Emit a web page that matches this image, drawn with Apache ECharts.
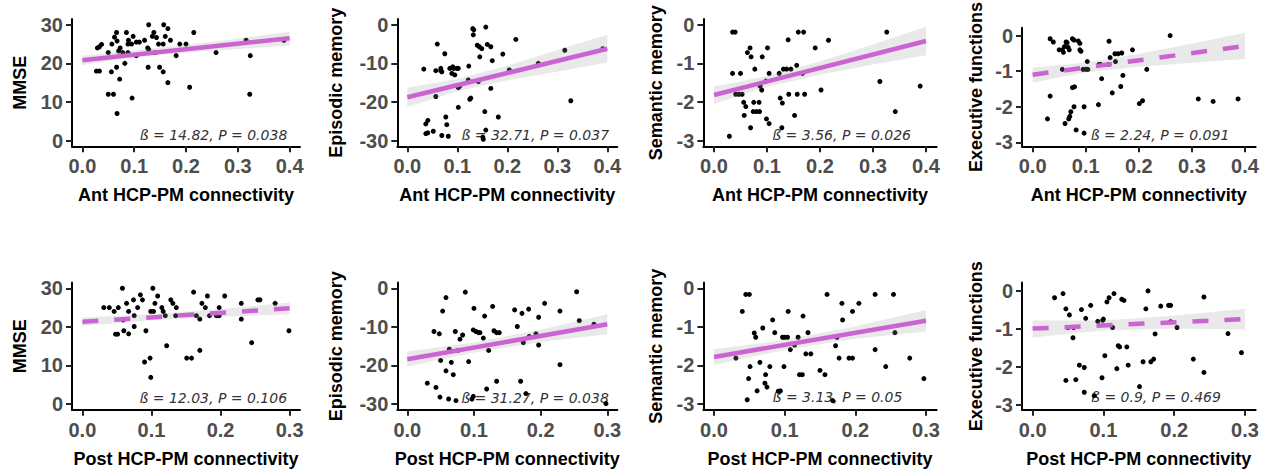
<!DOCTYPE html>
<html>
<head>
<meta charset="utf-8">
<script src="https://cdn.jsdelivr.net/npm/echarts@6/dist/echarts.min.js"></script>
<style>
html, body { margin: 0; padding: 0; background: #fff; }
#main { width: 1268px; height: 473px; }
</style>
</head>
<body>
<div id="main"></div>
<script>
// axis names and stats
var yNames = ['MMSE', 'Episodic memory', 'Semantic memory', 'Executive functions'];
var xNames = ['Ant HCP-PM connectivity', 'Post HCP-PM connectivity'];
var statLabels = [
  'ß = 14.82, P = 0.038', 'ß = 32.71, P = 0.037', 'ß = 3.56, P = 0.026', 'ß = 2.24, P = 0.091',
  'ß = 12.03, P = 0.106', 'ß = 31.27, P = 0.038', 'ß = 3.13, P = 0.05', 'ß = 0.9, P = 0.469'
];

// tick labels
var xTicksAnt = [0, 0.1, 0.2, 0.3, 0.4];
var xTicksPost = [0, 0.1, 0.2, 0.3];
var yTicksMmse = [0, 10, 20, 30];
var yTicksEpisodic = [-30, -20, -10, 0];
var yTicksScore = [-3, -2, -1, 0];

// points: [connectivity, score]
var antMmse = [[0.027,18],[0.033,18],[0.029,24],[0.033,24.3],[0.037,24.9],[0.05,22.8],[0.05,12],[0.06,12],[0.056,17.8],[0.057,25],[0.062,26.8],[0.066,28],[0.067,25.8],[0.066,19],[0.067,7],[0.07,23.2],[0.072,15.9],[0.073,24],[0.078,22.8],[0.082,20],[0.085,28],[0.088,22.8],[0.088,25],[0.089,26],[0.095,25],[0.096,11],[0.098,27],[0.104,25.5],[0.104,22],[0.11,25.5],[0.12,26],[0.126,24],[0.128,23.6],[0.127,19],[0.128,30],[0.135,27],[0.138,28],[0.14,22.8],[0.143,26.7],[0.147,25],[0.149,19],[0.156,25],[0.156,17.8],[0.157,30],[0.16,27],[0.165,29],[0.165,15],[0.17,26],[0.181,22],[0.188,25],[0.2,25],[0.207,13.8],[0.215,28],[0.258,22.8],[0.316,26],[0.323,12],[0.324,22],[0.389,26]];
var antEpisodic = [[0.033,-11.5],[0.037,-25.7],[0.041,-24.8],[0.037,-28.2],[0.041,-28],[0.052,-27.6],[0.057,-11.9],[0.06,-5],[0.057,-18.6],[0.067,-11.9],[0.067,-11.3],[0.069,-12.2],[0.075,-7.5],[0.077,-23.9],[0.079,-25.9],[0.069,-28.7],[0.082,-28.9],[0.085,-11.3],[0.089,-12.6],[0.091,-10.9],[0.093,-11.3],[0.095,-13],[0.099,-11.3],[0.102,-11.3],[0.102,-16.3],[0.105,-15.9],[0.102,-21.4],[0.123,-10.7],[0.122,-14.3],[0.125,-19.3],[0.127,-19],[0.131,-1],[0.132,-2.6],[0.133,-1.3],[0.14,-5.3],[0.144,-5.7],[0.149,-6.2],[0.142,-14.7],[0.145,-8.3],[0.151,-29.1],[0.152,-29.7],[0.157,-0.6],[0.155,-22.5],[0.16,-5.1],[0.167,-5.7],[0.17,-9.3],[0.167,-16.5],[0.182,-23.9],[0.157,-27.3],[0.191,-7.6],[0.204,-11.7],[0.217,-3.8],[0.262,-10],[0.315,-6.6],[0.327,-19.7],[0.391,-6.2]];
var antSemantic = [[0.029,-2.89],[0.035,-0.19],[0.04,-0.19],[0.035,-1.26],[0.041,-1.8],[0.047,-1.8],[0.05,-1.26],[0.053,-1.8],[0.056,-2.01],[0.06,-2.12],[0.057,-2.35],[0.063,-0.72],[0.068,-0.6],[0.07,-0.83],[0.069,-2.67],[0.077,-1.15],[0.075,-2.01],[0.085,-2.01],[0.074,-2.25],[0.08,-2.25],[0.086,-2.25],[0.087,-1.59],[0.09,-1.69],[0.091,-0.83],[0.098,-1.46],[0.101,-0.6],[0.099,-2.44],[0.104,-2.56],[0.104,-1.26],[0.123,-1.26],[0.125,-1.9],[0.129,-2.03],[0.128,-2.67],[0.131,-1.15],[0.137,-1.15],[0.145,-1.15],[0.14,-0.39],[0.141,-1.8],[0.152,-2.35],[0.156,-1.05],[0.157,-1.8],[0.171,-1.8],[0.159,-0.19],[0.169,-0.19],[0.167,-1.26],[0.191,-0.6],[0.202,-1.69],[0.216,-0.4],[0.313,-1.47],[0.326,-0.19],[0.342,-2.25],[0.389,-1.59]];
var antExecutive = [[0.028,-2.34],[0.033,-0.09],[0.039,-0.18],[0.033,-1.7],[0.05,-0.4],[0.056,-0.4],[0.06,-0.31],[0.058,-0.47],[0.056,-0.95],[0.063,-0.18],[0.065,-0.2],[0.061,-2.47],[0.067,-0.33],[0.069,-0.4],[0.068,-2.34],[0.07,-2.27],[0.072,-2.14],[0.075,-0.09],[0.078,-0.13],[0.075,-1.46],[0.079,-1.44],[0.078,-2.0],[0.082,-2.65],[0.086,-0.15],[0.089,-0.22],[0.089,-0.4],[0.091,-0.44],[0.095,-0.95],[0.1,-0.95],[0.104,-0.95],[0.097,-2.0],[0.097,-2.74],[0.103,-0.73],[0.125,-0.81],[0.128,-0.81],[0.13,-1.21],[0.124,-1.94],[0.143,-0.81],[0.144,-0.16],[0.146,-0.62],[0.15,-1.61],[0.155,-0.51],[0.161,-0.51],[0.168,-0.49],[0.156,-0.73],[0.166,-1.43],[0.17,-1.12],[0.188,-0.4],[0.201,-1.91],[0.207,-1.83],[0.215,-0.95],[0.259,0],[0.312,-1.78],[0.34,-1.85],[0.387,-1.78]];
var postMmse = [[0.031,25],[0.039,25],[0.046,24],[0.052,25],[0.048,18.1],[0.051,18.1],[0.058,30],[0.059,21.8],[0.06,19],[0.064,26.1],[0.067,24],[0.067,18.2],[0.074,27],[0.075,22.9],[0.075,20.1],[0.08,25],[0.084,28.3],[0.087,27],[0.09,10.9],[0.092,19],[0.098,11.9],[0.099,6.9],[0.099,24],[0.103,24],[0.102,30],[0.105,26.1],[0.109,28],[0.115,25],[0.117,24],[0.12,22.9],[0.122,15.1],[0.128,27],[0.131,26.1],[0.135,22.9],[0.136,25],[0.151,11.9],[0.158,11.9],[0.161,29],[0.165,22.9],[0.17,22],[0.17,13.9],[0.173,26.1],[0.178,25],[0.181,28],[0.184,22.9],[0.194,22.9],[0.198,22.9],[0.198,25],[0.206,28],[0.23,26.1],[0.23,22],[0.245,15.9],[0.254,27],[0.257,27],[0.279,26.1],[0.299,19]];
var postEpisodic = [[0.03,-24.6],[0.04,-11.2],[0.043,-25.7],[0.048,-11.8],[0.049,-28.2],[0.05,-18.7],[0.053,-5.9],[0.058,-2.4],[0.058,-21.4],[0.063,-15.8],[0.066,-19.2],[0.062,-28.7],[0.069,-22.4],[0.072,-11.2],[0.073,-29.1],[0.076,-16.1],[0.079,-13.2],[0.083,-12.1],[0.087,-1],[0.092,-19],[0.099,-28],[0.097,-28.7],[0.1,-5.2],[0.099,-10.8],[0.103,-11.2],[0.107,-11.5],[0.109,-11.5],[0.114,-12.9],[0.116,-7.2],[0.119,-26.1],[0.122,-16.1],[0.128,-4.7],[0.13,-11],[0.134,-11.5],[0.138,-11.5],[0.134,-24.1],[0.161,-5.6],[0.165,-9.9],[0.17,-24.1],[0.172,-6.5],[0.174,-14.1],[0.178,-27.3],[0.182,-5.4],[0.183,-12.5],[0.193,-11.8],[0.197,-7.5],[0.197,-14.7],[0.206,-3.9],[0.229,-5.9],[0.229,-19.8],[0.254,-0.9],[0.258,-8.4],[0.28,-9.3],[0.298,-29.9]];
var postSemantic = [[0.031,-1.81],[0.04,-0.6],[0.045,-0.16],[0.05,-0.16],[0.047,-2.89],[0.049,-2.34],[0.051,-2.03],[0.057,-1.16],[0.059,-1.27],[0.061,-2.66],[0.065,-1.92],[0.069,-1.03],[0.073,-2.24],[0.072,-2.46],[0.075,-2.56],[0.079,-2.03],[0.083,-0.82],[0.086,-1.15],[0.091,-2.67],[0.094,-2.66],[0.097,-1.27],[0.1,-1.27],[0.104,-1.27],[0.099,-2.03],[0.105,-0.6],[0.108,-1.59],[0.114,-1.47],[0.119,-1.27],[0.121,-2.24],[0.125,-2.24],[0.126,-0.72],[0.13,-1.7],[0.133,-1.15],[0.137,-1.7],[0.15,-2.13],[0.157,-2.24],[0.16,-0.16],[0.168,-2.91],[0.172,-1.49],[0.174,-1.27],[0.177,-1.81],[0.181,-0.39],[0.182,-0.82],[0.191,-1.81],[0.196,-1.81],[0.196,-0.6],[0.205,-0.39],[0.228,-1.59],[0.228,-0.16],[0.243,-2.03],[0.254,-0.16],[0.256,-1.15],[0.277,-1.81],[0.297,-2.34]];
var postExecutive = [[0.031,-0.18],[0.043,-0.07],[0.047,-0.47],[0.052,-0.63],[0.05,-0.96],[0.047,-2.35],[0.061,-2.33],[0.057,-1.23],[0.058,-0.96],[0.066,-1.95],[0.073,-2.01],[0.069,-0.49],[0.075,-0.72],[0.073,-2.66],[0.082,-0.38],[0.087,-2.75],[0.092,-0.8],[0.099,-0.77],[0.1,-0.74],[0.098,-2.28],[0.102,-1.7],[0.105,-0.29],[0.108,-0.18],[0.115,-0.07],[0.113,-0.96],[0.119,-2.04],[0.121,-1.44],[0.123,-1.47],[0.126,-0.22],[0.129,-0.25],[0.133,-1.47],[0.135,-1.95],[0.151,-2.51],[0.156,-1.86],[0.16,-0.47],[0.163,0],[0.167,-1.86],[0.171,-1.79],[0.173,-1.13],[0.181,-0.4],[0.192,-0.38],[0.195,-0.38],[0.195,-0.81],[0.204,-0.96],[0.227,-1.79],[0.242,-2.14],[0.242,-0.16],[0.276,-1.12],[0.295,-1.62]];

// fitted lines (end points)
var antMmseFit = [[0, 20.8], [0.4, 26.5]];
var antEpisodicFit = [[0, -18.8], [0.4, -6.2]];
var antSemanticFit = [[0, -1.82], [0.4, -0.42]];
var antExecutiveFit = [[0, -1.1], [0.4, -0.29]];
var postMmseFit = [[0, 21.3], [0.3, 24.8]];
var postEpisodicFit = [[0, -18.4], [0.3, -9.3]];
var postSemanticFit = [[0, -1.78], [0.3, -0.84]];
var postExecutiveFit = [[0, -0.99], [0.3, -0.74]];

// confidence bands
var antBandX = [0, 0.1, 0.2, 0.3, 0.4];
var postBandX = [0, 0.1, 0.2, 0.3];
var antMmseLow = [19.6, 21.6, 22.8, 23.7, 24.6];
var antMmseHigh = [22.0, 23.4, 24.8, 26.4, 28.2];
var antEpisodicLow = [-21.3, -17.25, -14.4, -12.15, -9.8];
var antEpisodicHigh = [-16.3, -14.05, -10.6, -6.55, -2.6];
var antSemanticLow = [-2.05, -1.61, -1.29, -1.03, -0.79];
var antSemanticHigh = [-1.6, -1.33, -0.95, -0.51, -0.05];
var antExecutiveLow = [-1.32, -1.04, -0.875, -0.76, -0.66];
var antExecutiveHigh = [-0.9, -0.76, -0.515, -0.22, 0.08];
var postMmseLow = [20.2, 21.7, 22.6, 23.3];
var postMmseHigh = [22.4, 23.3, 24.6, 26.3];
var postEpisodicLow = [-20.3, -16.67, -13.93, -11.9];
var postEpisodicHigh = [-16.4, -14.07, -10.73, -6.7];
var postSemanticLow = [-1.98, -1.6, -1.31, -1.12];
var postSemanticHigh = [-1.58, -1.34, -0.99, -0.56];
var postExecutiveLow = [-1.22, -1.04, -0.99, -1.01];
var postExecutiveHigh = [-0.78, -0.78, -0.65, -0.47];

var panels = [
  {pts: antMmse, fit: antMmseFit, bx: antBandX, lo: antMmseLow, hi: antMmseHigh, yTicks: yTicksMmse, dashed: false},
  {pts: antEpisodic, fit: antEpisodicFit, bx: antBandX, lo: antEpisodicLow, hi: antEpisodicHigh, yTicks: yTicksEpisodic, dashed: false},
  {pts: antSemantic, fit: antSemanticFit, bx: antBandX, lo: antSemanticLow, hi: antSemanticHigh, yTicks: yTicksScore, dashed: false},
  {pts: antExecutive, fit: antExecutiveFit, bx: antBandX, lo: antExecutiveLow, hi: antExecutiveHigh, yTicks: yTicksScore, dashed: true},
  {pts: postMmse, fit: postMmseFit, bx: postBandX, lo: postMmseLow, hi: postMmseHigh, yTicks: yTicksMmse, dashed: true},
  {pts: postEpisodic, fit: postEpisodicFit, bx: postBandX, lo: postEpisodicLow, hi: postEpisodicHigh, yTicks: yTicksEpisodic, dashed: false},
  {pts: postSemantic, fit: postSemanticFit, bx: postBandX, lo: postSemanticLow, hi: postSemanticHigh, yTicks: yTicksScore, dashed: false},
  {pts: postExecutive, fit: postExecutiveFit, bx: postBandX, lo: postExecutiveLow, hi: postExecutiveHigh, yTicks: yTicksScore, dashed: true}
];

// layout
var colLeft = [72, 397.3, 703.4, 1022];
var colWidth = [228, 220, 233.2, 233.6];
var rowTop = [19, 282.5];
var rowHeight = 127.3;
var yNameGap = [43, 52, 38, 37];
var xRange = [[-0.02, 0.42], [-0.015, 0.315]];
var yRange = [[-1.5, 31.5], [-31.5, 1.5], [-3.15, 0.15], [-3.11, 0.22],
              [-1.5, 31.5], [-31.5, 1.5], [-3.15, 0.15], [-3.12, 0.22]];
var statPos = [[213.5, 135], [535.3, 135], [841.7, 135], [1160, 135],
               [213.3, 398], [535, 397.7], [837.5, 396.7], [1156, 396.7]];

var font = '"Liberation Sans", Arial, sans-serif';
var fitColor = '#CB63D2';

var chart = echarts.init(document.getElementById('main'), null, {renderer: 'svg'});

var grids = [], xAxes = [], yAxes = [], series = [], texts = [];

panels.forEach(function (p, i) {
  var r = Math.floor(i / 4), c = i % 4;
  grids.push({left: colLeft[c], top: rowTop[r], width: colWidth[c], height: rowHeight});

  var xTicks = r === 0 ? xTicksAnt : xTicksPost;
  xAxes.push({
    gridIndex: i, type: 'value',
    min: xRange[r][0], max: xRange[r][1],
    name: xNames[r], nameLocation: 'middle', nameGap: 40,
    nameTextStyle: {fontFamily: font, fontSize: 18, fontWeight: 'bold', color: '#000'},
    axisLine: {onZero: false, lineStyle: {color: '#000', width: 2}},
    axisTick: {customValues: xTicks, length: 6, lineStyle: {color: '#222', width: 2}},
    axisLabel: {customValues: xTicks, margin: 10, fontFamily: font, fontSize: 20, fontWeight: 'bold', color: '#4d4d4d',
      formatter: function (v) { return v.toFixed(1); }},
    splitLine: {show: false}
  });
  yAxes.push({
    gridIndex: i, type: 'value',
    min: yRange[i][0], max: yRange[i][1],
    name: yNames[c], nameLocation: 'middle', nameGap: yNameGap[c],
    nameTextStyle: {fontFamily: font, fontSize: 18, fontWeight: 'bold', color: '#000'},
    axisLine: {onZero: false, lineStyle: {color: '#000', width: 2}},
    axisTick: {customValues: p.yTicks, length: 6, lineStyle: {color: '#222', width: 2}},
    axisLabel: {customValues: p.yTicks, margin: 9, fontFamily: font, fontSize: 20, fontWeight: 'bold', color: '#4d4d4d',
      formatter: function (v) { return String(Math.round(v)); }},
    splitLine: {show: false}
  });

  series.push({
    type: 'scatter', xAxisIndex: i, yAxisIndex: i, data: p.pts,
    symbolSize: 5, itemStyle: {color: '#000', opacity: 1}, silent: true, z: 2
  });
  series.push({
    type: 'custom', xAxisIndex: i, yAxisIndex: i, data: [[p.bx[0], p.lo[0]]], silent: true, z: 3,
    renderItem: function (params, api) {
      var pts = [];
      for (var j = 0; j < p.bx.length; j++) pts.push(api.coord([p.bx[j], p.lo[j]]));
      for (var k = p.bx.length - 1; k >= 0; k--) pts.push(api.coord([p.bx[k], p.hi[k]]));
      return {type: 'polygon', shape: {points: pts}, style: {fill: 'rgba(153,153,153,0.22)'}};
    }
  });
  series.push({
    type: 'line', xAxisIndex: i, yAxisIndex: i, data: p.fit, symbol: 'none', silent: true, z: 4,
    lineStyle: {color: fitColor, width: 4.5, type: p.dashed ? [16, 16] : 'solid', cap: 'butt'}
  });

  texts.push({
    type: 'text', x: statPos[i][0], y: statPos[i][1], silent: true,
    style: {text: statLabels[i], font: 'italic 14px "DejaVu Sans"', fill: '#333', align: 'center', verticalAlign: 'middle'}
  });
});

chart.setOption({
  animation: false,
  backgroundColor: '#fff',
  grid: grids,
  xAxis: xAxes,
  yAxis: yAxes,
  series: series,
  graphic: texts
});
</script>
</body>
</html>
